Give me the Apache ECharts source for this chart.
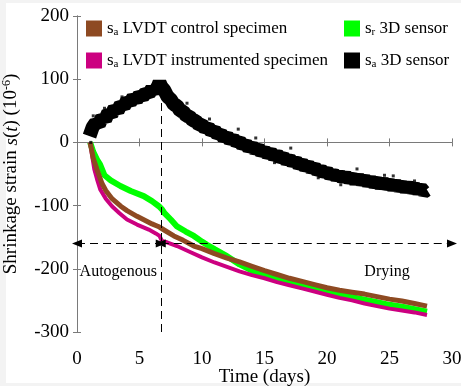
<!DOCTYPE html>
<html><head><meta charset="utf-8">
<script src="https://cdn.jsdelivr.net/npm/echarts@6/dist/echarts.min.js"></script>
<style>html,body{margin:0;padding:0;background:#fff}#c{width:461px;height:386px}</style>
</head><body><div id="c"></div>
<script>
const xTicks = [0, 5, 10, 15, 20, 25, 30];
const yTicks = [-300, -200, -100, 0, 100, 200];

const brownDays = [1.05,1.3,1.6,2.0,2.3,2.8,3.5,4.0,4.8,5.5,6.0,6.5,7.0,7.75,8.5,9.35,10,11,12,13,14,15,16,17,18,19,20,21,22,23,24,25,26,27,28];
const brownVals = [0,-25,-43,-65,-76,-89,-101,-108,-117,-124,-129,-133,-139,-148,-155,-164,-168,-176,-183,-189,-196,-203,-209,-215,-220,-225,-230,-234,-237,-240,-244,-248,-251,-255,-259];

const magentaDays = [1.05,1.2,1.39,1.6,1.87,2.3,2.8,3.4,4.0,4.8,5.74,6.3,6.6,6.8,7.2,8.0,9,10,11,12,13,14,15,16,17,18,19,20,21,22,23,24,25,26,27,28];
const magentaVals = [0,-20,-43,-58,-75,-89,-101,-112,-122,-130,-138,-144,-148,-156,-158,-164,-173,-182,-190,-197,-204,-210,-215,-221,-226,-231,-236,-241,-246,-250,-255,-259,-263,-266,-269,-273];

const greenDays = [1.05,1.3,1.6,1.85,2.2,2.7,3.47,4.3,5.34,6.0,6.55,6.8,7.0,7.5,8.0,8.7,9.35,10,10.4,11,12,13,14,15,16,17,18,19,20,21,22,23,24,25,26,27,28];
const greenVals = [0,-15,-27,-35,-52,-60,-69,-77,-85,-93,-101,-106,-112,-122,-133,-141,-148,-157,-162,-169,-180,-193,-203,-210,-215,-221,-226,-232,-237,-241,-245,-249,-253,-257,-260,-264,-268];

const blackDays = [1.0,1.25,1.5,1.75,2.0,2.25,2.5,2.75,3.0,3.25,3.5,3.75,4.0,4.25,4.5,4.75,5.0,5.25,5.5,5.75,6.0,6.25,6.5,6.6,6.75,7.0,7.25,7.5,7.75,8.0,8.25,8.5,8.75,9.0,9.25,9.5,9.75,10.0,10.25,10.5,10.75,11.0,11.25,11.5,11.75,12.0,12.25,12.5,12.75,13.0,13.25,13.5,13.75,14.0,14.25,14.5,14.75,15.0,15.25,15.5,15.75,16.0,16.25,16.5,16.75,17.0,17.25,17.5,17.75,18.0,18.25,18.5,18.75,19.0,19.25,19.5,19.75,20.0,20.25,20.5,20.75,21.0,21.25,21.5,21.75,22.0,22.25,22.5,22.75,23.0,23.25,23.5,23.75,24.0,24.25,24.5,24.75,25.0,25.25,25.5,25.75,26.0,26.25,26.5,26.75,27.0,27.25,27.5,27.75,28.0];
const blackVals = [10,24,31,28,40,36,47,44,54,50,60,57,66,63,71,67,75,72,79,77,85,81,90,95,88,82,72,68,60,58,50,49,42,41,35,34,28,28,22,24,17,19,12,14,7,10,3,6,0,2,-5,-2,-9,-6,-12,-9,-16,-13,-19,-16,-22,-19,-25,-23,-29,-26,-32,-29,-36,-33,-39,-36,-42,-39,-46,-43,-49,-46,-52,-49,-55,-51,-57,-53,-58,-55,-61,-56,-62,-58,-64,-60,-65,-62,-67,-63,-68,-65,-70,-66,-71,-68,-73,-69,-74,-71,-76,-72,-78,-75];
const blackStrayDays = [1.1,1.3,2.2,3.6,7.6,8.8,10.6,12.9,14.3,15.8,17.1,19.3,21.1,22.4,24.6,25.3,27.0];
const blackStrayVals = [0,42,54,72,77,62,37,21,7,-32,-9,-56,-67,-42,-52,-53,-61];

const boundaryDay = 6.7;
const arrowLevel = -160;
const seriesNames = ['sa LVDT control specimen','sa LVDT instrumented specimen','sr 3D sensor','sa 3D sensor'];

const zip = (a, b) => a.map((v, i) => [v, b[i]]);
const FONT = 'Liberation Serif';
const AX = '#7a7a7a';

const chart = echarts.init(document.getElementById('c'), null, {renderer: 'canvas'});
const legendFmt = name => {
  const sub = name.charAt(1);
  return '{n|s}{sub|' + sub + '}{n|' + name.slice(2) + '}';
};
const legendRich = {
  n: {fontFamily: FONT, fontSize: 17, color: '#000'},
  sub: {fontFamily: FONT, fontSize: 11, color: '#000', verticalAlign: 'bottom', padding: [8, 0, 0, 0]}
};
chart.setOption({
  animation: false,
  backgroundColor: '#f3f3f3',
  graphic: [{type: 'rect', shape: {x: 6, y: 3, width: 455, height: 380}, style: {fill: '#fff'}, z: -10, silent: true}],
  grid: {left: 77, right: 9, top: 16, bottom: 54, containLabel: false, outerBoundsMode: 'none'},
  legend: [
    {data: [seriesNames[0], seriesNames[1]], orient: 'vertical', left: 81, top: 15, itemWidth: 16, itemHeight: 16, itemGap: 14, icon: 'rect', formatter: legendFmt, textStyle: {rich: legendRich}},
    {data: [seriesNames[2], seriesNames[3]], orient: 'vertical', left: 339, top: 15, itemWidth: 16, itemHeight: 16, itemGap: 14, icon: 'rect', formatter: legendFmt, textStyle: {rich: legendRich}}
  ],
  xAxis: [
    {type: 'value', min: 0, max: 30, interval: 5, position: 'bottom',
     axisLine: {lineStyle: {color: AX, width: 1}}, axisTick: {inside: true, length: 4, lineStyle: {color: AX}},
     splitLine: {show: false},
     axisLabel: {fontFamily: FONT, fontSize: 19, color: '#000', margin: 18, showMinLabel: true, showMaxLabel: true},
     name: 'Time (days)', nameLocation: 'middle', nameGap: 36, nameMoveOverlap: false,
     nameTextStyle: {fontFamily: FONT, fontSize: 19, color: '#000'}},
    {type: 'value', min: 0, max: 30, interval: 5, position: 'top',
     axisLine: {lineStyle: {color: AX}}, axisTick: {inside: true, length: 4, lineStyle: {color: AX}},
     axisLabel: {show: false}, splitLine: {show: false}}
  ],
  yAxis: [
    {type: 'value', min: -300, max: 200, interval: 100, position: 'left',
     axisLine: {show: true, lineStyle: {color: AX}}, axisTick: {show: true, inside: true, length: 4, lineStyle: {color: AX}},
     splitLine: {show: false},
     axisLabel: {fontFamily: FONT, fontSize: 19, color: '#000', margin: 8},
     name: '{n|Shrinkage strain }{i|s}{n|(}{i|t}{n|) (10}{sup|-6}{n|)}', nameLocation: 'middle', nameGap: 55, nameRotate: 90, nameMoveOverlap: false,
     nameTextStyle: {rich: {
       n: {fontFamily: FONT, fontSize: 19, color: '#000'},
       i: {fontFamily: FONT, fontSize: 19, color: '#000', fontStyle: 'italic'},
       sup: {fontFamily: FONT, fontSize: 12, color: '#000', verticalAlign: 'top', padding: [0, 0, 9, 0]}
     }}},
    {type: 'value', min: -300, max: 200, interval: 100, position: 'right',
     axisLine: {show: true, lineStyle: {color: AX}}, axisTick: {show: true, inside: true, length: 4, lineStyle: {color: AX}},
     axisLabel: {show: false}, splitLine: {show: false}}
  ],
  series: [
    {name: seriesNames[2], type: 'line', data: zip(greenDays, greenVals), showSymbol: false, symbol: 'rect',
     itemStyle: {color: '#00ff00'}, lineStyle: {color: '#00ff00', width: 6}, z: 2},
    {name: seriesNames[1], type: 'line', data: zip(magentaDays, magentaVals), showSymbol: false, symbol: 'rect',
     itemStyle: {color: '#cc0080'}, lineStyle: {color: '#cc0080', width: 4}, z: 3},
    {name: seriesNames[0], type: 'line', data: zip(brownDays, brownVals), showSymbol: false, symbol: 'rect',
     itemStyle: {color: '#8e4a22'}, lineStyle: {color: '#8e4a22', width: 5}, z: 4},
    {name: 'stray', type: 'scatter', data: zip(blackStrayDays, blackStrayVals), symbol: 'rect', symbolSize: 3,
     itemStyle: {color: '#000'}, z: 5, silent: true},
    {name: seriesNames[3], type: 'line', data: zip(blackDays, blackVals), showSymbol: false, symbol: 'rect',
     itemStyle: {color: '#000'}, lineStyle: {color: '#000', width: 14}, z: 5,
     markLine: {
       silent: true, symbol: ['triangle', 'triangle'], symbolSize: [8, 10],
       lineStyle: {color: '#000', type: [8, 5], width: 1}, label: {show: false},
       data: [
         [{coord: [0, arrowLevel]}, {coord: [boundaryDay, arrowLevel]}],
         [{coord: [boundaryDay, arrowLevel]}, {coord: [30, arrowLevel]}],
         [{coord: [boundaryDay, -300], symbol: 'none'}, {coord: [boundaryDay, 95], symbol: 'none'}]
       ]
     },
     markPoint: {
       silent: true, symbol: 'rect', symbolSize: 0,
       label: {show: true, position: 'inside', fontFamily: FONT, fontSize: 16, color: '#000', formatter: p => p.name},
       data: [
         {name: 'Autogenous', coord: [3.3, -204]},
         {name: 'Drying', coord: [24.8, -204]}
       ]
     }}
  ]
});
</script></body></html>
